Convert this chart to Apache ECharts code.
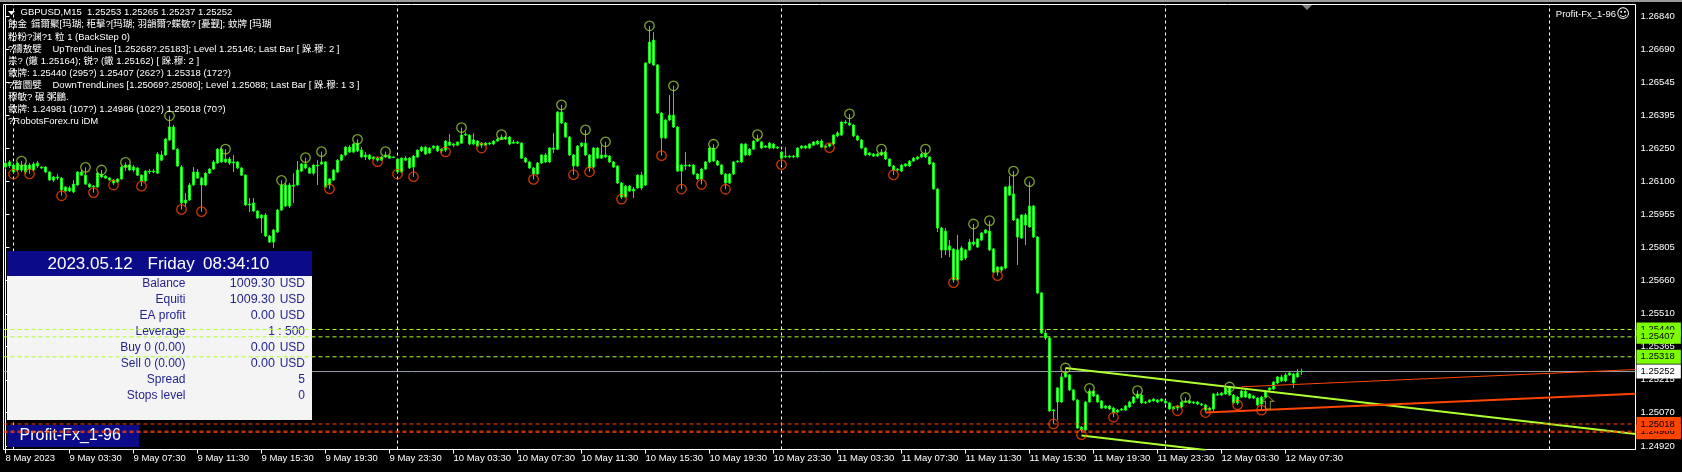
<!DOCTYPE html>
<html><head><meta charset="utf-8">
<script src="https://cdn.jsdelivr.net/npm/echarts@6/dist/echarts.min.js"></script>
<style>html,body{margin:0;padding:0;background:#000;overflow:hidden}#c{width:1682px;height:472px}</style>
</head><body><div id="c"></div>
<script>
const opens = [1.26183,1.26170,1.26174,1.26152,1.26152,1.26174,1.26174,1.26152,1.26170,1.26165,
1.26165,1.26143,1.26107,1.26121,1.26116,1.26058,1.26072,1.26054,1.26085,1.26143,
1.26129,1.26089,1.26076,1.26076,1.26121,1.26125,1.26116,1.26107,1.26098,1.26112,
1.26165,1.26174,1.26152,1.26161,1.26129,1.26103,1.26147,1.26143,1.26138,1.26219,
1.26219,1.26286,1.26344,1.26245,1.26165,1.26005,1.26018,1.26085,1.26143,1.26116,
1.26085,1.26138,1.26156,1.26183,1.26245,1.26188,1.26201,1.26183,1.26188,1.26161,
1.26129,1.25996,1.26005,1.25969,1.25938,1.25951,1.25857,1.25830,1.25875,1.25973,
1.26085,1.25991,1.26085,1.26085,1.26147,1.26179,1.26161,1.26138,1.26174,1.26179,
1.26188,1.26085,1.26107,1.26143,1.26196,1.26219,1.26254,1.26232,1.26237,1.26241,
1.26210,1.26219,1.26201,1.26205,1.26196,1.26210,1.26214,1.26210,1.26201,1.26143,
1.26205,1.26205,1.26165,1.26210,1.26237,1.26254,1.26228,1.26250,1.26259,1.26237,
1.26241,1.26277,1.26263,1.26263,1.26272,1.26308,1.26308,1.26268,1.26281,1.26263,
1.26272,1.26268,1.26268,1.26281,1.26290,1.26299,1.26268,1.26277,1.26272,1.26272,
1.26205,1.26188,1.26161,1.26134,1.26183,1.26219,1.26188,1.26250,1.26245,1.26411,
1.26362,1.26299,1.26219,1.26170,1.26259,1.26272,1.26219,1.26165,1.26250,1.26205,
1.26219,1.26214,1.26188,1.26170,1.26094,1.26031,1.26080,1.26058,1.26072,1.26129,
1.26085,1.26630,1.26732,1.26621,1.26406,1.26295,1.26375,1.26397,1.26344,1.26147,
1.26174,1.26170,1.26174,1.26134,1.26112,1.26156,1.26188,1.26250,1.26192,1.26174,
1.26134,1.26094,1.26134,1.26188,1.26188,1.26268,1.26219,1.26245,1.26281,1.26277,
1.26254,1.26250,1.26268,1.26250,1.26232,1.26210,1.26214,1.26210,1.26210,1.26250,
1.26259,1.26250,1.26263,1.26268,1.26281,1.26254,1.26259,1.26268,1.26304,1.26308,
1.26366,1.26362,1.26353,1.26304,1.26286,1.26250,1.26219,1.26223,1.26214,1.26219,
1.26232,1.26201,1.26170,1.26152,1.26147,1.26170,1.26170,1.26192,1.26201,1.26210,
1.26228,1.26210,1.26183,1.26067,1.25893,1.25795,1.25813,1.25799,1.25661,1.25804,
1.25759,1.25795,1.25830,1.25808,1.25839,1.25871,1.25879,1.25799,1.25696,1.25719,
1.25714,1.26080,1.26045,1.25933,1.25848,1.25951,1.25898,1.25991,1.25853,1.25603,
1.25424,1.25402,1.25076,1.25116,1.25116,1.25228,1.25237,1.25170,1.25125,1.25004,
1.24991,1.25116,1.25165,1.25147,1.25121,1.25089,1.25098,1.25089,1.25071,1.25080,
1.25080,1.25094,1.25112,1.25134,1.25147,1.25112,1.25116,1.25121,1.25125,1.25121,
1.25121,1.25112,1.25085,1.25098,1.25094,1.25116,1.25121,1.25112,1.25116,1.25107,
1.25103,1.25080,1.25085,1.25152,1.25147,1.25152,1.25180,1.25147,1.25112,1.25138,
1.25165,1.25134,1.25143,1.25134,1.25107,1.25138,1.25170,1.25174,1.25201,1.25228,
1.25210,1.25237,1.25241,1.25228,1.25253];
const closes = [1.26165,1.26188,1.26143,1.26183,1.26174,1.26143,1.26156,1.26179,1.26183,1.26161,
1.26143,1.26107,1.26121,1.26116,1.26063,1.26076,1.26058,1.26089,1.26143,1.26129,
1.26089,1.26076,1.26080,1.26138,1.26134,1.26116,1.26107,1.26094,1.26112,1.26165,
1.26174,1.26152,1.26165,1.26129,1.26103,1.26147,1.26143,1.26147,1.26223,1.26196,
1.26290,1.26344,1.26245,1.26170,1.26005,1.26018,1.26085,1.26143,1.26116,1.26085,
1.26138,1.26156,1.26188,1.26245,1.26188,1.26201,1.26183,1.26188,1.26161,1.26129,
1.25996,1.26000,1.25969,1.25938,1.25951,1.25857,1.25830,1.25884,1.25973,1.26085,
1.25991,1.26085,1.26080,1.26152,1.26179,1.26161,1.26138,1.26174,1.26170,1.26188,
1.26076,1.26112,1.26152,1.26196,1.26219,1.26254,1.26232,1.26268,1.26272,1.26210,
1.26219,1.26201,1.26210,1.26196,1.26210,1.26219,1.26205,1.26208,1.26143,1.26205,
1.26196,1.26161,1.26214,1.26241,1.26254,1.26223,1.26250,1.26259,1.26237,1.26245,
1.26281,1.26263,1.26268,1.26277,1.26308,1.26312,1.26268,1.26286,1.26259,1.26272,
1.26263,1.26272,1.26281,1.26290,1.26299,1.26290,1.26299,1.26272,1.26277,1.26205,
1.26188,1.26161,1.26134,1.26183,1.26219,1.26188,1.26250,1.26245,1.26411,1.26362,
1.26299,1.26219,1.26170,1.26259,1.26272,1.26219,1.26161,1.26250,1.26205,1.26219,
1.26210,1.26188,1.26165,1.26094,1.26031,1.26080,1.26058,1.26067,1.26129,1.26072,
1.26630,1.26723,1.26621,1.26406,1.26295,1.26375,1.26397,1.26344,1.26147,1.26174,
1.26170,1.26174,1.26134,1.26112,1.26156,1.26188,1.26250,1.26192,1.26174,1.26134,
1.26094,1.26134,1.26188,1.26192,1.26268,1.26219,1.26245,1.26281,1.26290,1.26250,
1.26259,1.26272,1.26250,1.26254,1.26205,1.26214,1.26210,1.26214,1.26250,1.26259,
1.26250,1.26268,1.26277,1.26281,1.26254,1.26259,1.26268,1.26308,1.26317,1.26366,
1.26362,1.26353,1.26304,1.26286,1.26250,1.26219,1.26228,1.26214,1.26223,1.26232,
1.26201,1.26170,1.26152,1.26156,1.26174,1.26179,1.26192,1.26205,1.26210,1.26223,
1.26210,1.26179,1.26067,1.25893,1.25795,1.25879,1.25795,1.25661,1.25795,1.25750,
1.25795,1.25830,1.25821,1.25844,1.25871,1.25884,1.25795,1.25696,1.25719,1.25705,
1.26076,1.26040,1.25929,1.25853,1.25951,1.25906,1.25991,1.25853,1.25603,1.25424,
1.25402,1.25076,1.25080,1.25179,1.25228,1.25246,1.25170,1.25125,1.25000,1.24991,
1.25116,1.25165,1.25143,1.25116,1.25089,1.25098,1.25085,1.25067,1.25080,1.25085,
1.25098,1.25116,1.25138,1.25152,1.25112,1.25116,1.25125,1.25129,1.25116,1.25129,
1.25112,1.25085,1.25094,1.25089,1.25116,1.25121,1.25112,1.25116,1.25107,1.25103,
1.25080,1.25089,1.25152,1.25147,1.25156,1.25179,1.25147,1.25112,1.25138,1.25165,
1.25138,1.25152,1.25134,1.25103,1.25138,1.25165,1.25179,1.25205,1.25228,1.25210,
1.25237,1.25246,1.25201,1.25246,1.25252];
const lows = [1.26156,1.26161,1.26134,1.26143,1.26143,1.26134,1.26135,1.26147,1.26161,1.26156,
1.26138,1.26103,1.26098,1.26107,1.26037,1.26054,1.26054,1.26049,1.26080,1.26125,
1.26085,1.26072,1.26051,1.26072,1.26116,1.26112,1.26103,1.26085,1.26094,1.26107,
1.26147,1.26147,1.26143,1.26125,1.26080,1.26098,1.26134,1.26138,1.26134,1.26192,
1.26214,1.26281,1.26241,1.26165,1.25976,1.25987,1.26014,1.26080,1.26112,1.25966,
1.26080,1.26134,1.26152,1.26179,1.26183,1.26183,1.26174,1.26143,1.26156,1.26125,
1.25991,1.25964,1.25964,1.25933,1.25871,1.25853,1.25826,1.25804,1.25871,1.25969,
1.25987,1.25982,1.26005,1.26080,1.26143,1.26156,1.26134,1.26129,1.26085,1.26174,
1.26072,1.26068,1.26103,1.26138,1.26192,1.26214,1.26228,1.26228,1.26232,1.26205,
1.26196,1.26196,1.26196,1.26189,1.26192,1.26205,1.26201,1.26205,1.26134,1.26138,
1.26192,1.26156,1.26122,1.26205,1.26232,1.26219,1.26223,1.26245,1.26232,1.26228,
1.26233,1.26259,1.26254,1.26259,1.26268,1.26304,1.26263,1.26263,1.26254,1.26250,
1.26259,1.26263,1.26263,1.26277,1.26286,1.26286,1.26263,1.26268,1.26268,1.26201,
1.26183,1.26156,1.26110,1.26129,1.26179,1.26183,1.26183,1.26228,1.26241,1.26357,
1.26295,1.26214,1.26131,1.26165,1.26254,1.26214,1.26144,1.26161,1.26201,1.26201,
1.26205,1.26183,1.26161,1.26089,1.26022,1.26027,1.26054,1.26027,1.26067,1.26063,
1.26080,1.26625,1.26616,1.26402,1.26216,1.26290,1.26371,1.26339,1.26143,1.26067,
1.26152,1.26165,1.26129,1.26107,1.26088,1.26152,1.26183,1.26188,1.26170,1.26129,
1.26066,1.26089,1.26129,1.26183,1.26183,1.26214,1.26214,1.26241,1.26277,1.26245,
1.26250,1.26245,1.26245,1.26245,1.26176,1.26205,1.26205,1.26205,1.26205,1.26245,
1.26245,1.26245,1.26259,1.26263,1.26250,1.26250,1.26252,1.26263,1.26299,1.26304,
1.26357,1.26348,1.26299,1.26281,1.26245,1.26214,1.26214,1.26210,1.26210,1.26214,
1.26196,1.26165,1.26130,1.26147,1.26143,1.26165,1.26165,1.26188,1.26196,1.26205,
1.26205,1.26174,1.26063,1.25875,1.25759,1.25772,1.25763,1.25649,1.25656,1.25746,
1.25750,1.25790,1.25813,1.25804,1.25835,1.25866,1.25790,1.25692,1.25680,1.25696,
1.25709,1.26036,1.25924,1.25728,1.25844,1.25817,1.25893,1.25848,1.25598,1.25419,
1.25393,1.25071,1.25018,1.25036,1.25112,1.25223,1.25165,1.25121,1.24996,1.24981,
1.24987,1.25112,1.25138,1.25112,1.25085,1.25085,1.25080,1.25048,1.25067,1.25076,
1.25076,1.25089,1.25107,1.25129,1.25107,1.25107,1.25112,1.25116,1.25112,1.25116,
1.25107,1.25080,1.25080,1.25077,1.25089,1.25112,1.25107,1.25107,1.25103,1.25098,
1.25069,1.25076,1.25076,1.25143,1.25143,1.25147,1.25143,1.25107,1.25103,1.25134,
1.25134,1.25129,1.25129,1.25098,1.25080,1.25134,1.25165,1.25170,1.25196,1.25205,
1.25205,1.25232,1.25179,1.25223,1.25237];
const highs = [1.26192,1.26196,1.26183,1.26188,1.26192,1.26183,1.26183,1.26188,1.26192,1.26170,
1.26170,1.26147,1.26125,1.26134,1.26121,1.26080,1.26080,1.26107,1.26147,1.26152,
1.26164,1.26094,1.26085,1.26143,1.26152,1.26129,1.26121,1.26112,1.26116,1.26170,
1.26186,1.26179,1.26174,1.26165,1.26134,1.26152,1.26156,1.26156,1.26232,1.26237,
1.26295,1.26394,1.26353,1.26250,1.26174,1.26049,1.26094,1.26165,1.26156,1.26121,
1.26143,1.26161,1.26196,1.26250,1.26254,1.26245,1.26210,1.26219,1.26192,1.26165,
1.26134,1.26027,1.26027,1.25973,1.25955,1.25960,1.25862,1.25889,1.25978,1.26106,
1.26094,1.26094,1.26138,1.26192,1.26183,1.26207,1.26165,1.26179,1.26196,1.26234,
1.26192,1.26116,1.26156,1.26201,1.26223,1.26259,1.26263,1.26272,1.26289,1.26254,
1.26232,1.26223,1.26214,1.26210,1.26214,1.26234,1.26219,1.26214,1.26205,1.26210,
1.26214,1.26210,1.26219,1.26245,1.26259,1.26259,1.26254,1.26263,1.26263,1.26250,
1.26286,1.26312,1.26272,1.26281,1.26341,1.26321,1.26312,1.26317,1.26286,1.26277,
1.26277,1.26277,1.26286,1.26295,1.26310,1.26304,1.26304,1.26286,1.26281,1.26277,
1.26210,1.26192,1.26165,1.26188,1.26223,1.26228,1.26254,1.26317,1.26415,1.26443,
1.26366,1.26304,1.26223,1.26263,1.26277,1.26331,1.26223,1.26254,1.26254,1.26263,
1.26278,1.26219,1.26192,1.26174,1.26098,1.26085,1.26085,1.26076,1.26134,1.26143,
1.26634,1.26796,1.26768,1.26625,1.26411,1.26380,1.26487,1.26528,1.26348,1.26179,
1.26232,1.26179,1.26179,1.26138,1.26161,1.26192,1.26259,1.26267,1.26196,1.26179,
1.26138,1.26138,1.26192,1.26196,1.26272,1.26272,1.26250,1.26286,1.26310,1.26281,
1.26263,1.26277,1.26272,1.26259,1.26237,1.26254,1.26219,1.26219,1.26254,1.26263,
1.26263,1.26272,1.26281,1.26286,1.26290,1.26263,1.26272,1.26312,1.26326,1.26371,
1.26375,1.26403,1.26357,1.26308,1.26290,1.26254,1.26232,1.26228,1.26228,1.26245,
1.26237,1.26205,1.26174,1.26161,1.26179,1.26183,1.26196,1.26210,1.26214,1.26228,
1.26245,1.26214,1.26188,1.26072,1.25898,1.25893,1.25839,1.25804,1.25862,1.25813,
1.25800,1.25844,1.25911,1.25848,1.25875,1.25889,1.25926,1.25804,1.25723,1.25723,
1.26080,1.26125,1.26147,1.25938,1.25955,1.25960,1.26100,1.25996,1.25857,1.25607,
1.25440,1.25407,1.25085,1.25183,1.25246,1.25268,1.25241,1.25174,1.25129,1.25009,
1.25121,1.25177,1.25170,1.25152,1.25125,1.25103,1.25103,1.25094,1.25085,1.25089,
1.25103,1.25121,1.25143,1.25167,1.25152,1.25121,1.25129,1.25134,1.25129,1.25134,
1.25125,1.25116,1.25098,1.25103,1.25121,1.25137,1.25125,1.25121,1.25121,1.25112,
1.25107,1.25094,1.25156,1.25161,1.25161,1.25180,1.25183,1.25152,1.25143,1.25170,
1.25170,1.25156,1.25147,1.25138,1.25143,1.25170,1.25183,1.25210,1.25232,1.25237,
1.25246,1.25250,1.25246,1.25263,1.25265];

const totalSlots = 408;
const timeTickBars = [0,16,32,48,64,80,96,112,128,144,160,176,192,208,224,240,256,272,288,304,320];
const timeTickLabels = ['8 May 2023','9 May 03:30','9 May 07:30','9 May 11:30','9 May 15:30','9 May 19:30','9 May 23:30',
 '10 May 03:30','10 May 07:30','10 May 11:30','10 May 15:30','10 May 19:30','10 May 23:30',
 '11 May 03:30','11 May 07:30','11 May 11:30','11 May 15:30','11 May 19:30','11 May 23:30',
 '12 May 03:30','12 May 07:30'];
const priceTickLabels = ['1.26840','1.26690','1.26545','1.26395','1.26250','1.26100','1.25955','1.25805','1.25660','1.25510','1.25365','1.25215','1.25070','1.24920'];
const daySeparatorBars = [2,98,194,290,386];
const fractalUpPoints = [[4,1.26192],[20,1.26164],[24,1.26152],[30,1.26186],[41,1.26394],[55,1.26245],[69,1.26106],[75,1.26207],[79,1.26234],[88,1.26289],[95,1.26234],[114,1.26341],[124,1.26310],[139,1.26443],[145,1.26331],[150,1.26278],[161,1.26796],[167,1.26528],[177,1.26267],[188,1.26310],[211,1.26403],[219,1.26245],[230,1.26245],[242,1.25911],[246,1.25926],[252,1.26147],[256,1.26100],[265,1.25268],[271,1.25177],[283,1.25167],[295,1.25137],[306,1.25183]];
const fractalDownPoints = [[2,1.26134],[6,1.26135],[14,1.26037],[22,1.26051],[27,1.26085],[34,1.26080],[44,1.25976],[49,1.25966],[81,1.26068],[93,1.26189],[98,1.26134],[102,1.26122],[110,1.26233],[119,1.26250],[132,1.26110],[142,1.26131],[146,1.26144],[154,1.26022],[164,1.26216],[169,1.26067],[174,1.26088],[180,1.26066],[194,1.26176],[206,1.26252],[222,1.26130],[237,1.25649],[248,1.25680],[262,1.25018],[269,1.24970],[277,1.25048],[293,1.25077],[300,1.25069],[308,1.25103],[314,1.25080]];
const levelsUp = [1.25440, 1.25407, 1.25318];
const levelsDown = [1.24981, 1.24986, 1.25018];
const bidPrice = 1.25252;
const upTrendLine = [[265,1.25268],[407.5,1.24973]];
const upTrendParallel = [[269,1.24966],[300,1.24902]];
const downTrendLine = [[300,1.25069],[407.5,1.25153]];
const downTrendParallel = [[309,1.25184],[407.5,1.25261]];
const arrowMarks = [[315.6,1.25114]];
const infoLines = [
 'GBPUSD,M15  1.25253 1.25265 1.25237 1.25252',
 '蝕金\t鍓爾聚[玛瑚; 秬擊?[玛瑚; 羽韻爾?蝶敏? [憂觐]; 蚊牌 [玛瑚',
 '粉粉?渊?1 粒 1 (BackStep 0)',
 '?禱敖嬖\tUpTrendLines [1.25268?.25183]; Level 1.25146; Last Bar [ 跺.穆: 2 ]',
 '祟? (鏾 1.25164); 锐? (鏾 1.25162) [ 跺.穆: 2 ]',
 '敹牌: 1.25440 (295?) 1.25407 (262?) 1.25318 (172?)',
 '?瞀圜嬖\tDownTrendLines [1.25069?.25080]; Level 1.25088; Last Bar [ 跺.穆: 1 3 ]',
 '穆敏? 碾 粥鵬.',
 '敹牌: 1.24981 (107?) 1.24986 (102?) 1.25018 (70?)',
 '?RobotsForex.ru iDM'
];
const panelDate = ['2023.05.12', 'Friday', '08:34:10'];
const panelLabels = ['Balance','Equiti','EA profit','Leverage','Buy 0 (0.00)','Sell 0 (0.00)','Spread','Stops level'];
const panelNumbers = ['1009.30','1009.30','0.00','','0.00','0.00','',''];
const panelUnits = ['USD','USD','USD','1 : 500','USD','USD','5','0'];
const expertName = 'Profit-Fx_1-96';

const FONT = '"Liberation Sans","Noto Sans CJK SC",sans-serif';
const chart = echarts.init(document.getElementById('c'));
const candleData = opens.map((o, i) => [o, closes[i], lows[i], highs[i]]);
const slotIds = Array.from({length: totalSlots}, (_, i) => String(i));
const priceTicks = priceTickLabels.map(Number);
const Y_MIN = 1.24904, Y_MAX = 1.26891;
const LIME = '#adff2f', RED = '#ff4500';

function txt(x, y, text, o) {
  o = o || {};
  return {type:'text', x:x, y:y, z:o.z || 20, silent:true,
    style:{text:text, fill:o.fill || '#fff', fontSize:o.size || 9.5, fontFamily:o.family || FONT,
      textAlign:o.align || 'left', align:o.align || 'left', textVerticalAlign:'middle', verticalAlign:'middle'}};
}
const g = [];
g.push({type:'rect', shape:{x:0,y:0,width:1682,height:2}, style:{fill:'#9a9a9a'}, z:20, silent:true});
g.push({type:'polygon', shape:{points:[[8,11],[15,11],[11.5,15]]}, style:{fill:'#fff'}, z:20, silent:true});
g.push({type:'polygon', shape:{points:[[1302,5],[1312,5],[1307,10]]}, style:{fill:'#808080'}, z:20, silent:true});
infoLines.forEach((ln, k) => {
  const y = 12.7 + k * 12.1;
  const parts = ln.split('\t');
  g.push(txt(k === 0 ? 20.5 : 8, y, parts[0]));
  if (parts[1]) g.push(txt(k === 1 ? 31 : 52.5, y, parts[1]));
});
g.push(txt(1616, 14.5, expertName, {align:'right'}));
g.push(txt(1623, 14.5, '\u263A', {align:'center', size:13, family:'"DejaVu Sans",sans-serif'}));
g.push({type:'rect', shape:{x:7,y:251,width:305,height:25}, style:{fill:'#0b0b8a'}, z:5, silent:true});
g.push({type:'rect', shape:{x:7,y:276,width:305,height:144}, style:{fill:'#f4f4f4'}, z:5, silent:true});
g.push(txt(47.5, 264.5, panelDate[0], {size:17, z:6}));
g.push(txt(147.5, 264.5, panelDate[1], {size:17, z:6}));
g.push(txt(203, 264.5, panelDate[2], {size:17, z:6}));
panelLabels.forEach((lb, k) => {
  const y = 284 + k * 16;
  const c = '#24248f';
  g.push(txt(185.5, y, lb, {align:'right', size:12, fill:c, z:6}));
  if (panelNumbers[k]) g.push(txt(275, y, panelNumbers[k], {align:'right', size:12.5, fill:c, z:6}));
  g.push(txt(305, y, panelUnits[k], {align:'right', size:12, fill:c, z:6}));
});
g.push({type:'rect', shape:{x:7,y:425,width:132,height:22}, style:{fill:'#0b0b8a'}, z:5, silent:true});
g.push(txt(19.5, 435.5, expertName, {size:16, z:6}));

function hLevel(v, color, dash, width, bg, z) {
  return {type:'line', xAxisIndex:1, data:[[-0.5, v], [totalSlots - 0.5, v]], symbol:'none', showSymbol:false,
    z:z, silent:true, animation:false, lineStyle:{color:color, type:dash, width:width},
    endLabel:{show:true, distance:1, formatter:() => v.toFixed(5), color:'#000', backgroundColor:bg,
      padding:[2,6,1,4], fontSize:9.5, fontFamily:FONT, lineHeight:11}};
}
function vSep(b) {
  return {type:'line', xAxisIndex:1, data:[[b, Y_MIN], [b, Y_MAX]], symbol:'none', showSymbol:false,
    z:1, silent:true, animation:false, lineStyle:{color:'#ffffff', type:[3,3], width:1}};
}

const series = [];
daySeparatorBars.forEach(b => series.push(vSep(b)));
series.push(hLevel(bidPrice, '#9aa3ad', 'solid', 1, '#ffffff', 1));
series.push({type:'candlestick', xAxisIndex:0, data:candleData, barWidth:2, z:3, silent:true,
  itemStyle:{color:'#ffffff', color0:'#ffffff', borderColor:'#00ff00', borderColor0:'#00ff00', borderWidth:1}});
series.push({type:'scatter', xAxisIndex:1, data:fractalUpPoints, symbol:'circle', symbolSize:9.5, z:4, silent:true,
  itemStyle:{color:'rgba(0,0,0,0)', borderColor:'#9acd32', borderWidth:1.3}});
series.push({type:'scatter', xAxisIndex:1, data:fractalDownPoints, symbol:'circle', symbolSize:9.5, z:4, silent:true,
  itemStyle:{color:'rgba(0,0,0,0)', borderColor:RED, borderWidth:1.3}});
series.push({type:'line', xAxisIndex:1, data:upTrendLine, symbol:'none', z:4, silent:true, lineStyle:{color:LIME, width:2}});
series.push({type:'line', xAxisIndex:1, data:upTrendParallel, symbol:'none', z:4, silent:true, lineStyle:{color:LIME, width:2}});
series.push({type:'line', xAxisIndex:1, data:downTrendLine, symbol:'none', z:4, silent:true, lineStyle:{color:RED, width:2}});
series.push({type:'line', xAxisIndex:1, data:downTrendParallel, symbol:'none', z:4, silent:true, lineStyle:{color:RED, width:1}});
series.push({type:'scatter', xAxisIndex:1, data:arrowMarks, z:4, silent:true,
  symbol:'path://M5,0 L10,5 L7,5 L7,12 L3,12 L3,5 L0,5 Z', symbolSize:[12,13],
  itemStyle:{color:'rgba(0,0,0,0)', borderColor:'#a8a830', borderWidth:1}});
levelsUp.forEach(v => series.push(hLevel(v, LIME, [4,3], 1, '#7cfc00', 10)));
levelsDown.forEach(v => series.push(hLevel(v, RED, [4,3], 1, RED, 10)));

const option = {
  backgroundColor:'#000',
  animation:false,
  grid:{left:3.5, right:46.5, top:4.5, bottom:22.5, show:true, borderColor:'#ffffff', borderWidth:1, backgroundColor:'transparent'},
  xAxis:[
    {type:'category', data:slotIds, boundaryGap:true, show:false},
    {type:'value', min:-0.5, max:totalSlots - 0.5, position:'bottom',
     axisLine:{show:true, lineStyle:{color:'#fff', width:1}},
     axisTick:{show:true, customValues:timeTickBars, length:4, lineStyle:{color:'#fff'}},
     axisLabel:{show:true, customValues:timeTickBars, color:'#fff', fontSize:9.5, fontFamily:FONT, align:'left', margin:4,
       formatter: v => { const k = timeTickBars.indexOf(Math.round(v)); return k >= 0 ? timeTickLabels[k] : ''; }},
     splitLine:{show:false}}
  ],
  yAxis:{type:'value', position:'right', min:Y_MIN, max:Y_MAX,
    axisLine:{show:true, lineStyle:{color:'#fff'}},
    axisTick:{show:true, customValues:priceTicks, length:4, lineStyle:{color:'#fff'}},
    axisLabel:{show:true, customValues:priceTicks, color:'#fff', fontSize:9.5, fontFamily:FONT, margin:5,
      formatter: v => Number(v).toFixed(5)},
    splitLine:{show:false}},
  graphic:{elements:g},
  series:series
};
chart.setOption(option);
</script>
</body></html>
